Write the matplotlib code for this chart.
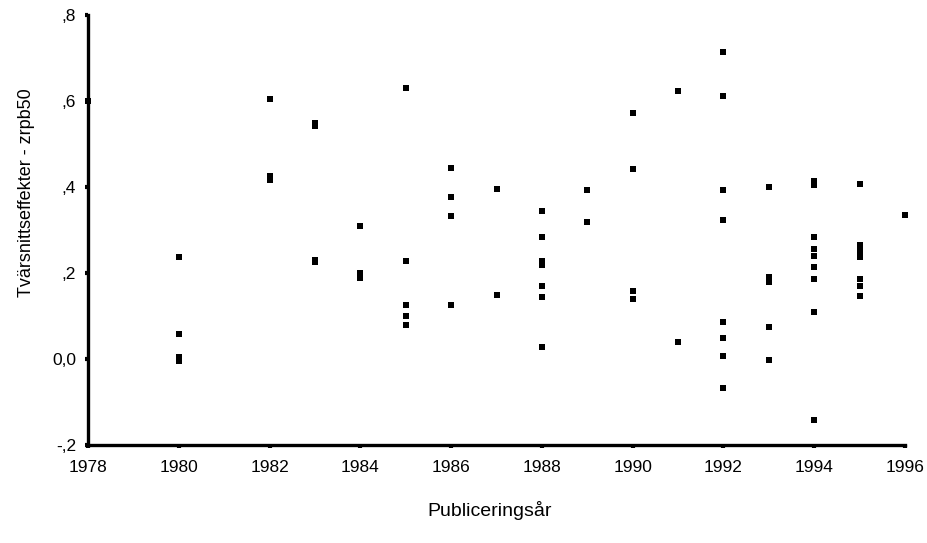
import matplotlib.pyplot as plt
from matplotlib.ticker import FuncFormatter

plt.rcParams['font.family'] = ['Liberation Sans', 'DejaVu Sans']

# publication year and cross-sectional effect (zrpb50)
year = [1978,
        1980, 1980, 1980, 1980,
        1982, 1982, 1982,
        1983, 1983, 1983, 1983,
        1984, 1984, 1984,
        1985, 1985, 1985, 1985, 1985,
        1986, 1986, 1986, 1986,
        1987, 1987,
        1988, 1988, 1988, 1988, 1988, 1988, 1988,
        1989, 1989,
        1990, 1990, 1990, 1990,
        1991, 1991,
        1992, 1992, 1992, 1992, 1992, 1992, 1992, 1992,
        1993, 1993, 1993, 1993, 1993,
        1994, 1994, 1994, 1994, 1994, 1994, 1994, 1994, 1994,
        1995, 1995, 1995, 1995, 1995, 1995, 1995,
        1996]
effect = [0.600,
          0.237, 0.057, -0.004, 0.005,
          0.604, 0.417, 0.425,
          0.543, 0.548, 0.225, 0.231,
          0.310, 0.189, 0.200,
          0.631, 0.228, 0.125, 0.101, 0.079,
          0.444, 0.377, 0.333, 0.125,
          0.396, 0.150,
          0.344, 0.284, 0.219, 0.229, 0.169, 0.145, 0.029,
          0.392, 0.318,
          0.573, 0.442, 0.140, 0.157,
          0.623, 0.040,
          0.713, 0.612, 0.392, 0.324, 0.087, 0.048, 0.007, -0.067,
          0.399, 0.178, 0.190, 0.075, -0.003,
          0.405, 0.415, 0.284, 0.240, 0.255, 0.215, 0.186, 0.109, -0.142,
          0.408, 0.238, 0.252, 0.266, 0.187, 0.169, 0.146,
          0.336]

fig = plt.figure(figsize=(9.27, 5.43), dpi=100)
ax = fig.add_axes([88 / 927, 98 / 543, (905 - 88) / 927, (445 - 15) / 543])

ax.scatter(year, effect, marker='s', s=24, c='black', linewidths=0, clip_on=False, zorder=3)

ax.set_xlim(1978, 1996)
ax.set_ylim(-0.2, 0.8)
ax.set_xticks(range(1978, 1997, 2))
ax.set_yticks([-0.2, 0.0, 0.2, 0.4, 0.6, 0.8])


def ylab(v, pos):
    s = f"{v:.1f}".replace('.', ',')
    if s == '0,0':
        return s
    return s.replace('0,', ',')


ax.yaxis.set_major_formatter(FuncFormatter(ylab))

for side in ['top', 'right']:
    ax.spines[side].set_visible(False)
for side in ['left', 'bottom']:
    ax.spines[side].set_linewidth(2.4)
ax.tick_params(axis='both', length=2.5, width=3, labelsize=12.5)
ax.tick_params(axis='x', pad=8)
ax.tick_params(axis='y', pad=6)

fig.text(490 / 927, 1 - 510 / 543, "Publiceringsår", fontsize=14, ha='center', va='center')
fig.text(27 / 927, 1 - 193 / 543, "Tvärsnittseffekter - zrpb50", fontsize=13,
         rotation=90, ha='center', va='center')

fig.savefig('out.png', dpi=100)
